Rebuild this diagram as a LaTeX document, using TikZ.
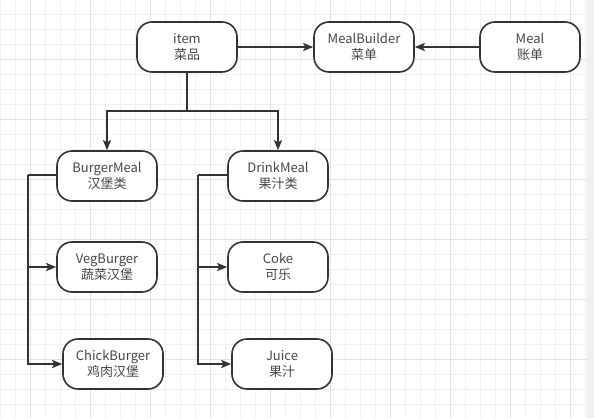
\documentclass[tikz,border=0pt]{standalone}
\usepackage{fontspec}
\setmainfont{Noto Sans CJK SC}
\usetikzlibrary{arrows.meta, positioning}

\definecolor{inkgray}{RGB}{51,51,51}
\definecolor{textgray}{RGB}{70,70,70}
\definecolor{gridminor}{RGB}{240,240,240}
\definecolor{gridmajor}{RGB}{226,226,226}
\definecolor{sidebar}{RGB}{240,240,240}

\tikzset{
    mealbox/.style={draw=inkgray, line width=1.6pt, rounded corners=15pt, fill=white,
        minimum width=100pt, minimum height=50pt, align=center, text=textgray,
        font=\fontsize{13}{16.5}\selectfont, inner sep=2pt},
    link/.style={draw=inkgray, line width=1.8pt, -{Stealth[length=10pt, width=8pt, inset=2pt]}},
    plainlink/.style={draw=inkgray, line width=1.8pt}
}

\begin{document}
\begin{tikzpicture}[x=1pt, y=-1pt]
    \useasboundingbox (0,0) rectangle (594,418);
    \fill[white] (0,0) rectangle (594,418);

    % background grid
    \foreach \x in {0.5,15.5,...,586} \draw[gridminor, line width=0.8pt] (\x,0) -- (\x,418);
    \foreach \y in {14,29,...,418} \draw[gridminor, line width=0.8pt] (0,\y) -- (587,\y);
    \foreach \x in {30.5,90.5,...,586} \draw[gridmajor, line width=0.8pt] (\x,0) -- (\x,418);
    \foreach \y in {59,119,...,418} \draw[gridmajor, line width=0.8pt] (0,\y) -- (587,\y);
    \fill[sidebar] (587,0) rectangle (594,418);

    % top row
    \node[mealbox] (item) at (187,47) {item\\菜品};
    \node[mealbox] (builder) at (364,47) {MealBuilder\\菜单};
    \node[mealbox] (meal) at (530,47) {Meal\\账单};

    % second row
    \node[mealbox] (burgermeal) at (107,176) {BurgerMeal\\汉堡类};
    \node[mealbox] (drinkmeal) at (278,176) {DrinkMeal\\果汁类};

    % leaves
    \node[mealbox] (vegburger) at (107,267) {VegBurger\\蔬菜汉堡};
    \node[mealbox] (chickburger) at (113,364) {ChickBurger\\鸡肉汉堡};
    \node[mealbox] (coke) at (278,267) {Coke\\可乐};
    \node[mealbox] (juice) at (282,364) {Juice\\果汁};

    \coordinate (split) at (187,111);
    \coordinate (burgerturn) at (28,175);
    \coordinate (drinkturn) at (198,175);

    \draw[link] (item.east) -- (builder.west);
    \draw[link] (meal.west) -- (builder.east);

    \draw[link] (item.south) -- (split) -| (burgermeal.north);
    \draw[link] (split) -| (drinkmeal.north);

    \draw[plainlink] (burgermeal.west |- burgerturn) -- (burgerturn);
    \draw[link] (burgerturn) |- (vegburger.west);
    \draw[link] (burgerturn) |- (chickburger.west);

    \draw[plainlink] (drinkmeal.west |- drinkturn) -- (drinkturn);
    \draw[link] (drinkturn) |- (coke.west);
    \draw[link] (drinkturn) |- (juice.west);
\end{tikzpicture}
\end{document}
